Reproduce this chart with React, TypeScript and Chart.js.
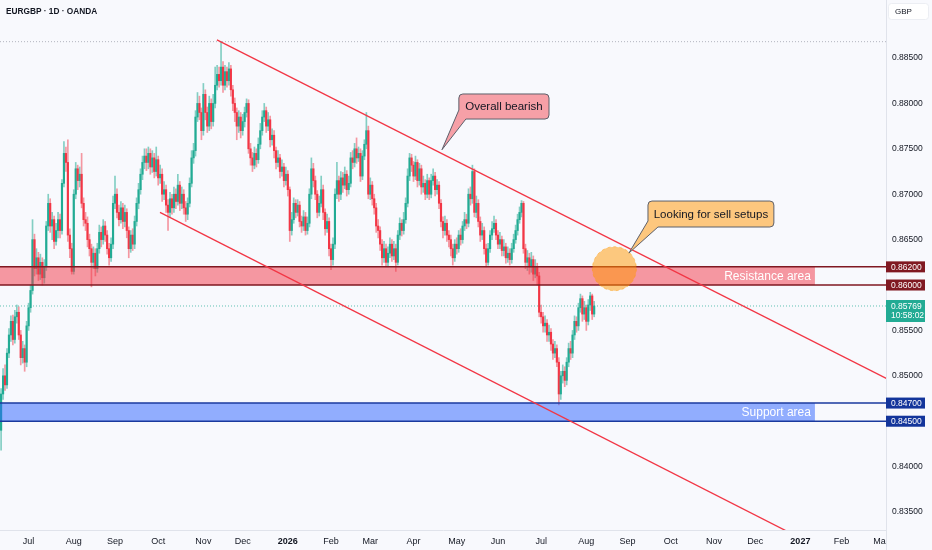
import React, { useEffect, useRef } from "react";
import { Chart, registerables } from "chart.js";

Chart.register(...registerables);

// ---------- data ----------
// Daily bars, indexed by trading day: 0 = 1 Jul 2025. First bar is index FIRST_BAR.
const FIRST_BAR = -14;
// Prices in units of 0.0001 (pips)
const OPEN = [
  8440, 8480, 8500, 8490, 8525, 8545, 8560, 8540, 8565, 8570,
  8545, 8520, 8530, 8515, 8555, 8575, 8594, 8650, 8618, 8630,
  8612, 8625, 8608, 8620, 8665, 8690, 8665, 8672, 8648, 8660,
  8672, 8660, 8712, 8745, 8735, 8655, 8640, 8615, 8700, 8728,
  8715, 8722, 8690, 8672, 8668, 8650, 8640, 8625, 8635, 8618,
  8640, 8658, 8650, 8665, 8655, 8640, 8630, 8645, 8690, 8700,
  8680, 8672, 8685, 8670, 8680, 8660, 8640, 8655, 8645, 8670,
  8690, 8705, 8722, 8735, 8742, 8735, 8745, 8730, 8740, 8725,
  8738, 8718, 8722, 8700, 8705, 8688, 8680, 8695, 8685, 8700,
  8692, 8710, 8690, 8700, 8685, 8678, 8690, 8712, 8740, 8748,
  8785, 8800, 8790, 8770, 8810, 8790, 8775, 8800, 8780, 8800,
  8820, 8832, 8825, 8840, 8820, 8835, 8825, 8838, 8815, 8800,
  8790, 8775, 8785, 8770, 8780, 8790, 8800, 8750, 8740, 8732,
  8745, 8738, 8755, 8770, 8785, 8792, 8775, 8782, 8760, 8765,
  8748, 8735, 8740, 8725, 8730, 8715, 8722, 8705, 8660, 8672,
  8690, 8680, 8688, 8670, 8665, 8675, 8660, 8668, 8700, 8728,
  8715, 8700, 8680, 8690, 8705, 8680, 8662, 8670, 8640, 8628,
  8645, 8700, 8715, 8700, 8718, 8710, 8722, 8705, 8712, 8740,
  8735, 8750, 8740, 8745, 8720, 8742, 8755, 8770, 8700, 8710,
  8695, 8685, 8665, 8660, 8645, 8630, 8640, 8625, 8635, 8645,
  8632, 8640, 8625, 8655, 8668, 8660, 8672, 8690, 8720, 8740,
  8732, 8720, 8735, 8715, 8728, 8708, 8712, 8700, 8715, 8700,
  8715, 8720, 8705, 8710, 8690, 8670, 8660, 8668, 8655, 8650,
  8640, 8630, 8645, 8640, 8655, 8650, 8665, 8672, 8668, 8700,
  8695, 8725, 8680, 8690, 8670, 8655, 8660, 8640, 8625, 8640,
  8655, 8662, 8668, 8655, 8645, 8650, 8638, 8642, 8630, 8635,
  8628, 8640, 8650, 8660, 8672, 8680, 8690, 8640, 8625, 8630,
  8620, 8628, 8612, 8620, 8610, 8570, 8565, 8555, 8558, 8545,
  8548, 8535, 8525, 8530, 8515, 8480, 8500, 8505, 8495, 8515,
  8530, 8525, 8545, 8560, 8555, 8575, 8585, 8568, 8575, 8560,
  8578, 8588, 8568,
];
const HIGH = [
  8486, 8508, 8512, 8530, 8552, 8566, 8567, 8572, 8578, 8576,
  8550, 8538, 8534, 8560, 8580, 8600, 8672, 8656, 8640, 8636,
  8634, 8630, 8628, 8670, 8700, 8695, 8680, 8676, 8668, 8680,
  8678, 8716, 8758, 8752, 8760, 8662, 8646, 8705, 8735, 8732,
  8730, 8745, 8696, 8680, 8675, 8656, 8645, 8642, 8640, 8646,
  8666, 8664, 8672, 8670, 8660, 8646, 8652, 8698, 8720, 8706,
  8688, 8692, 8690, 8688, 8684, 8664, 8660, 8662, 8676, 8696,
  8712, 8728, 8742, 8750, 8750, 8752, 8750, 8748, 8745, 8752,
  8742, 8732, 8728, 8714, 8710, 8694, 8702, 8700, 8708, 8706,
  8722, 8714, 8708, 8705, 8692, 8696, 8718, 8748, 8756, 8792,
  8812, 8808, 8795, 8822, 8815, 8796, 8808, 8805, 8810, 8840,
  8842, 8840, 8868, 8846, 8842, 8840, 8845, 8842, 8820, 8806,
  8795, 8792, 8790, 8788, 8796, 8805, 8804, 8756, 8746, 8752,
  8750, 8762, 8778, 8792, 8800, 8796, 8790, 8786, 8772, 8770,
  8752, 8748, 8744, 8738, 8734, 8730, 8726, 8708, 8680, 8696,
  8694, 8694, 8692, 8676, 8682, 8680, 8675, 8706, 8740, 8734,
  8720, 8704, 8698, 8720, 8710, 8684, 8678, 8674, 8645, 8652,
  8706, 8735, 8720, 8725, 8724, 8730, 8726, 8720, 8746, 8748,
  8756, 8762, 8752, 8750, 8748, 8760, 8790, 8775, 8718, 8714,
  8700, 8690, 8672, 8664, 8650, 8648, 8645, 8642, 8652, 8650,
  8648, 8645, 8660, 8674, 8672, 8680, 8696, 8728, 8745, 8744,
  8736, 8742, 8738, 8734, 8732, 8720, 8716, 8722, 8718, 8722,
  8728, 8724, 8716, 8714, 8694, 8675, 8676, 8672, 8660, 8655,
  8645, 8650, 8652, 8660, 8662, 8670, 8680, 8678, 8706, 8708,
  8732, 8728, 8698, 8694, 8675, 8668, 8664, 8645, 8646, 8660,
  8670, 8676, 8672, 8660, 8658, 8654, 8650, 8646, 8642, 8640,
  8646, 8656, 8666, 8678, 8686, 8693, 8692, 8645, 8638, 8635,
  8636, 8632, 8628, 8624, 8614, 8578, 8570, 8566, 8562, 8556,
  8552, 8540, 8538, 8534, 8520, 8505, 8512, 8510, 8520, 8536,
  8538, 8550, 8566, 8565, 8580, 8590, 8588, 8582, 8578, 8584,
  8592, 8590, 8582,
];
const LOW = [
  8418, 8474, 8484, 8486, 8520, 8538, 8534, 8536, 8558, 8540,
  8512, 8514, 8505, 8510, 8550, 8570, 8590, 8610, 8612, 8605,
  8606, 8600, 8602, 8616, 8660, 8658, 8650, 8640, 8644, 8652,
  8652, 8656, 8708, 8725, 8648, 8630, 8612, 8612, 8695, 8705,
  8708, 8685, 8665, 8660, 8642, 8632, 8598, 8618, 8610, 8614,
  8635, 8642, 8645, 8648, 8634, 8622, 8626, 8640, 8684, 8674,
  8665, 8668, 8662, 8664, 8652, 8630, 8636, 8638, 8640, 8665,
  8684, 8700, 8716, 8728, 8726, 8728, 8722, 8724, 8718, 8720,
  8710, 8712, 8692, 8694, 8680, 8660, 8675, 8678, 8680, 8684,
  8688, 8682, 8684, 8678, 8670, 8672, 8686, 8708, 8734, 8742,
  8780, 8782, 8760, 8765, 8782, 8768, 8770, 8772, 8775, 8795,
  8815, 8818, 8820, 8812, 8815, 8818, 8820, 8808, 8792, 8780,
  8760, 8768, 8762, 8765, 8774, 8785, 8745, 8732, 8725, 8728,
  8730, 8734, 8750, 8765, 8780, 8768, 8770, 8752, 8754, 8740,
  8728, 8730, 8718, 8720, 8708, 8710, 8698, 8648, 8655, 8668,
  8674, 8676, 8664, 8658, 8660, 8655, 8656, 8664, 8695, 8708,
  8694, 8674, 8676, 8686, 8672, 8655, 8658, 8632, 8617, 8622,
  8640, 8695, 8692, 8694, 8702, 8706, 8698, 8700, 8708, 8728,
  8730, 8734, 8736, 8714, 8716, 8738, 8750, 8695, 8694, 8688,
  8678, 8658, 8652, 8638, 8622, 8625, 8620, 8620, 8630, 8626,
  8628, 8615, 8622, 8650, 8654, 8656, 8668, 8686, 8715, 8725,
  8714, 8716, 8708, 8710, 8700, 8702, 8694, 8696, 8694, 8696,
  8710, 8698, 8700, 8684, 8664, 8652, 8655, 8648, 8642, 8632,
  8622, 8626, 8634, 8636, 8644, 8646, 8660, 8662, 8664, 8688,
  8690, 8675, 8674, 8664, 8648, 8650, 8634, 8620, 8622, 8636,
  8650, 8658, 8650, 8640, 8640, 8632, 8632, 8624, 8625, 8622,
  8624, 8636, 8646, 8655, 8668, 8675, 8635, 8618, 8616, 8612,
  8614, 8605, 8608, 8600, 8565, 8558, 8548, 8548, 8538, 8538,
  8528, 8518, 8520, 8510, 8468, 8474, 8492, 8488, 8490, 8510,
  8518, 8520, 8540, 8548, 8550, 8570, 8560, 8562, 8550, 8556,
  8572, 8562, 8565,
];
const CLOSE = [
  8480, 8500, 8490, 8525, 8545, 8560, 8540, 8565, 8570, 8545,
  8520, 8530, 8515, 8555, 8575, 8594, 8650, 8618, 8630, 8612,
  8625, 8608, 8620, 8665, 8690, 8665, 8672, 8648, 8660, 8672,
  8660, 8712, 8745, 8735, 8655, 8640, 8615, 8700, 8728, 8715,
  8722, 8690, 8672, 8668, 8650, 8640, 8625, 8635, 8618, 8640,
  8658, 8650, 8665, 8655, 8640, 8630, 8645, 8690, 8700, 8680,
  8672, 8685, 8670, 8680, 8660, 8640, 8655, 8645, 8670, 8690,
  8705, 8722, 8735, 8742, 8735, 8745, 8730, 8740, 8725, 8738,
  8718, 8722, 8700, 8705, 8688, 8680, 8695, 8685, 8700, 8692,
  8710, 8690, 8700, 8685, 8678, 8690, 8712, 8740, 8748, 8785,
  8800, 8790, 8770, 8810, 8790, 8775, 8800, 8780, 8800, 8820,
  8832, 8825, 8840, 8820, 8835, 8825, 8838, 8815, 8800, 8790,
  8775, 8785, 8770, 8780, 8790, 8800, 8750, 8740, 8732, 8745,
  8738, 8755, 8770, 8785, 8792, 8775, 8782, 8760, 8765, 8748,
  8735, 8740, 8725, 8730, 8715, 8722, 8705, 8660, 8672, 8690,
  8680, 8688, 8670, 8665, 8675, 8660, 8668, 8700, 8728, 8715,
  8700, 8680, 8690, 8705, 8680, 8662, 8670, 8640, 8628, 8645,
  8700, 8715, 8700, 8718, 8710, 8722, 8705, 8712, 8740, 8735,
  8750, 8740, 8745, 8720, 8742, 8755, 8770, 8700, 8710, 8695,
  8685, 8665, 8660, 8645, 8630, 8640, 8625, 8635, 8645, 8632,
  8640, 8625, 8655, 8668, 8660, 8672, 8690, 8720, 8740, 8732,
  8720, 8735, 8715, 8728, 8708, 8712, 8700, 8715, 8700, 8715,
  8720, 8705, 8710, 8690, 8670, 8660, 8668, 8655, 8650, 8640,
  8630, 8645, 8640, 8655, 8650, 8665, 8672, 8668, 8700, 8695,
  8725, 8680, 8690, 8670, 8655, 8660, 8640, 8625, 8640, 8655,
  8662, 8668, 8655, 8645, 8650, 8638, 8642, 8630, 8635, 8628,
  8640, 8650, 8660, 8672, 8680, 8690, 8640, 8625, 8630, 8620,
  8628, 8612, 8620, 8610, 8570, 8565, 8555, 8558, 8545, 8548,
  8535, 8525, 8530, 8515, 8480, 8500, 8505, 8495, 8515, 8530,
  8525, 8545, 8560, 8555, 8575, 8585, 8568, 8575, 8560, 8578,
  8588, 8568, 8576.9,
];

const MONTH_LABELS = ["Jul", "Aug", "Sep", "Oct", "Nov", "Dec", "2026", "Feb", "Mar", "Apr", "May", "Jun",
  "Jul", "Aug", "Sep", "Oct", "Nov", "Dec", "2027", "Feb", "Mar"];
const MONTH_BARS = [0, 23, 44, 66, 89, 109, 132, 154, 174, 196, 218, 239, 261, 284, 305, 327, 349, 370, 393, 414, 434];
const PRICE_TICKS = [0.835, 0.84, 0.845, 0.85, 0.855, 0.86, 0.865, 0.87, 0.875, 0.88, 0.885];

const RESISTANCE = [0.86, 0.862];
const SUPPORT = [0.845, 0.847];
const LAST_PRICE = 0.85769;
const COUNTDOWN = "10:58:02";
// trend lines: [bar, price] start and a second point
const UPPER_LINE = [[95.9, 0.8870], [436.0, 0.8498]];
const LOWER_LINE = [[66.9, 0.8680], [385.1, 0.8330]];

// ---------- styles ----------
const FONT = '"Liberation Sans", Arial, sans-serif';
const BG = "#f8f9fd";
const UP = "#22ab94";
const DOWN = "#f23645";
const UP_WICK = "rgba(34,171,148,0.55)";
const DOWN_WICK = "rgba(242,54,69,0.5)";
const TEXT = "#131722";
const AXIS_LINE = "#e0e3eb";

const X_MIN = -14.56;
const X_MAX = 436.6;
const Y_MIN = 0.83302;
const Y_MAX = 0.89139;

function roundRectPath(ctx: CanvasRenderingContext2D, l: number, t: number, w: number, h: number, rad: number) {
  ctx.beginPath();
  ctx.moveTo(l + rad, t);
  ctx.lineTo(l + w - rad, t);
  ctx.arcTo(l + w, t, l + w, t + rad, rad);
  ctx.lineTo(l + w, t + h - rad);
  ctx.arcTo(l + w, t + h, l + w - rad, t + h, rad);
  ctx.lineTo(l + rad, t + h);
  ctx.arcTo(l, t + h, l, t + h - rad, rad);
  ctx.lineTo(l, t + rad);
  ctx.arcTo(l, t, l + rad, t, rad);
  ctx.closePath();
}

function callout(
  ctx: CanvasRenderingContext2D, l: number, t: number, r: number, b: number,
  tipX: number, tipY: number, baseDx: number, baseDy: number, fill: string, text: string
) {
  const rad = 4;
  ctx.beginPath();
  ctx.moveTo(l + rad, t);
  ctx.lineTo(r - rad, t);
  ctx.arcTo(r, t, r, t + rad, rad);
  ctx.lineTo(r, b - rad);
  ctx.arcTo(r, b, r - rad, b, rad);
  ctx.lineTo(l + baseDx, b);
  ctx.lineTo(tipX, tipY);
  ctx.lineTo(l, b - baseDy);
  ctx.lineTo(l, t + rad);
  ctx.arcTo(l, t, l + rad, t, rad);
  ctx.closePath();
  ctx.fillStyle = fill;
  ctx.fill();
  ctx.strokeStyle = "#5d606b";
  ctx.lineWidth = 1;
  ctx.stroke();
  ctx.fillStyle = TEXT;
  ctx.font = `11.5px ${FONT}`;
  ctx.textAlign = "center";
  ctx.textBaseline = "middle";
  ctx.fillText(text, (l + r) / 2, (t + b) / 2 + 0.5);
}

const overlay = {
  id: "overlay",
  beforeDraw(chart: any) {
    const { ctx, width, height } = chart;
    ctx.save();
    ctx.fillStyle = BG;
    ctx.fillRect(0, 0, width, height);
    ctx.restore();
  },
  afterDatasetsDraw(chart: any) {
    const { ctx, chartArea: a, scales } = chart;
    const x = scales.x, y = scales.y;
    ctx.save();
    ctx.beginPath();
    ctx.rect(a.left, a.top, a.right - a.left, a.bottom - a.top);
    ctx.clip();

    // high marker & last price dotted lines
    const hiY = y.getPixelForValue(Math.max(...HIGH) / 1e4);
    ctx.setLineDash([1, 2]);
    ctx.lineWidth = 1;
    ctx.strokeStyle = "#b2b5be";
    ctx.beginPath(); ctx.moveTo(a.left, hiY); ctx.lineTo(a.right, hiY); ctx.stroke();
    const lpY = y.getPixelForValue(LAST_PRICE);
    ctx.strokeStyle = "rgba(34,171,148,0.7)";
    ctx.beginPath(); ctx.moveTo(a.left, lpY); ctx.lineTo(a.right, lpY); ctx.stroke();
    ctx.setLineDash([]);

    // bands
    const bands = [
      { lv: RESISTANCE, fill: "rgba(242,54,69,0.5)", line: "#801922", text: "Resistance area" },
      { lv: SUPPORT, fill: "rgba(41,98,255,0.5)", line: "#1a3a9e", text: "Support area" },
    ];
    const bandRight = x.getPixelForValue(400.4);
    for (const bd of bands) {
      const yt = y.getPixelForValue(bd.lv[1]);
      const yb = y.getPixelForValue(bd.lv[0]);
      ctx.fillStyle = bd.fill;
      ctx.fillRect(a.left, yt, bandRight - a.left, yb - yt);
      ctx.strokeStyle = bd.line;
      ctx.lineWidth = 1.5;
      ctx.beginPath();
      ctx.moveTo(a.left, yt); ctx.lineTo(a.right, yt);
      ctx.moveTo(a.left, yb); ctx.lineTo(a.right, yb);
      ctx.stroke();
      ctx.fillStyle = "#ffffff";
      ctx.font = `12px ${FONT}`;
      ctx.textAlign = "right";
      ctx.textBaseline = "middle";
      ctx.fillText(bd.text, bandRight - 4, (yt + yb) / 2 + 0.5);
    }

    // trend lines (extended right)
    ctx.strokeStyle = DOWN;
    ctx.lineWidth = 1.3;
    for (const ln of [UPPER_LINE, LOWER_LINE]) {
      const x1 = x.getPixelForValue(ln[0][0]), y1 = y.getPixelForValue(ln[0][1]);
      const x2 = x.getPixelForValue(ln[1][0]), y2 = y.getPixelForValue(ln[1][1]);
      const k = (y2 - y1) / (x2 - x1);
      const xe = a.right + 20;
      ctx.beginPath();
      ctx.moveTo(x1, y1);
      ctx.lineTo(xe, y1 + k * (xe - x1));
      ctx.stroke();
    }

    // circle
    const cx = x.getPixelForValue(298.3), cy = y.getPixelForValue(0.8618);
    ctx.beginPath();
    ctx.arc(cx, cy, 22, 0, Math.PI * 2);
    ctx.fillStyle = "rgba(255,152,0,0.5)";
    ctx.fill();
    ctx.setLineDash([3, 3]);
    ctx.strokeStyle = "rgba(255,152,0,0.45)";
    ctx.lineWidth = 1;
    ctx.stroke();
    ctx.setLineDash([]);

    // callouts
    callout(ctx,
      x.getPixelForValue(219.1), y.getPixelForValue(0.88104),
      x.getPixelForValue(265.0), y.getPixelForValue(0.87828),
      x.getPixelForValue(210.5), y.getPixelForValue(0.8749),
      7, 9, "#f6a0a7", "Overall bearish");
    callout(ctx,
      x.getPixelForValue(315.4), y.getPixelForValue(0.86925),
      x.getPixelForValue(379.5), y.getPixelForValue(0.86639),
      x.getPixelForValue(305.7), y.getPixelForValue(0.86352),
      10, 6, "#fdc77e", "Looking for sell setups");

    ctx.restore();
  },
  afterDraw(chart: any) {
    const { ctx, chartArea: a, scales, width, height } = chart;
    const y = scales.y;
    ctx.save();
    // hide overflow of last month label under price scale
    ctx.fillStyle = BG;
    ctx.fillRect(a.right + 1, a.bottom + 1, width - a.right, height - a.bottom);
    // price scale separator
    ctx.strokeStyle = AXIS_LINE;
    ctx.lineWidth = 1;
    ctx.beginPath();
    ctx.moveTo(a.right + 0.5, 0); ctx.lineTo(a.right + 0.5, height);
    ctx.stroke();

    const boxL = a.right;
    const boxW = 39;
    ctx.font = `8.5px ${FONT}`;
    ctx.textAlign = "left";
    ctx.textBaseline = "middle";
    const tag = (v: number, color: string) => {
      const py = y.getPixelForValue(v);
      ctx.fillStyle = color;
      ctx.fillRect(boxL, py - 5.5, boxW, 11);
      ctx.fillStyle = "#ffffff";
      ctx.fillText(v.toFixed(5), boxL + 5, py + 0.5);
    };
    tag(RESISTANCE[1], "#801922");
    tag(RESISTANCE[0], "#801922");
    tag(SUPPORT[1], "#13359b");
    tag(SUPPORT[0], "#13359b");
    // last price tag
    const lp = y.getPixelForValue(LAST_PRICE);
    ctx.fillStyle = UP;
    ctx.fillRect(boxL, lp - 6, boxW, 22);
    ctx.fillStyle = "#ffffff";
    ctx.fillText(LAST_PRICE.toFixed(5), boxL + 5, lp + 0.5);
    ctx.fillText(COUNTDOWN, boxL + 5, lp + 10);

    // currency box
    roundRectPath(ctx, a.right + 2.5, 3.5, 40, 16, 3);
    ctx.fillStyle = "#ffffff";
    ctx.fill();
    ctx.strokeStyle = "#eceef3";
    ctx.lineWidth = 1;
    ctx.stroke();

    // header texts
    ctx.fillStyle = TEXT;
    ctx.font = `bold 8.3px ${FONT}`;
    ctx.fillText("EURGBP · 1D · OANDA", 6, 11.5);
    ctx.font = `8px ${FONT}`;
    ctx.fillText("GBP", 895, 11.5);
    ctx.restore();
  },
};

export default function App() {
  const ref = useRef<HTMLCanvasElement>(null);
  useEffect(() => {
    document.body.style.margin = "0";
    document.body.style.background = BG;
    const bars = CLOSE.map((c, k) => ({
      i: FIRST_BAR + k,
      o: OPEN[k] / 1e4,
      h: HIGH[k] / 1e4,
      l: LOW[k] / 1e4,
      c: c / 1e4,
    }));
    const isUp = bars.map((b) => b.c >= b.o);
    const chart = new Chart(ref.current as HTMLCanvasElement, {
      type: "bar",
      data: {
        datasets: [
          {
            label: "wicks",
            data: bars.map((b) => ({ x: b.i, y: [b.l, b.h] })) as any,
            backgroundColor: isUp.map((u) => (u ? UP_WICK : DOWN_WICK)),
            barThickness: 1,
            grouped: false,
            order: 2,
          },
          {
            label: "bodies",
            data: bars.map((b) => ({ x: b.i, y: [b.o, b.c] })) as any,
            backgroundColor: isUp.map((u) => (u ? UP : DOWN)),
            barThickness: 1.5,
            minBarLength: 1,
            grouped: false,
            order: 1,
          },
        ],
      },
      options: {
        responsive: false,
        animation: false,
        layout: { padding: 0 },
        plugins: { legend: { display: false }, tooltip: { enabled: false } },
        scales: {
          x: {
            type: "linear",
            min: X_MIN,
            max: X_MAX,
            offset: false,
            grid: { display: false, drawTicks: false },
            border: { display: true, color: AXIS_LINE },
            afterBuildTicks: (s: any) => {
              s.ticks = MONTH_BARS.map((v) => ({ value: v }));
            },
            afterFit: (s: any) => {
              s.height = 20;
              s.paddingLeft = 0; s.paddingRight = 0; s.paddingTop = 0; s.paddingBottom = 0;
            },
            ticks: {
              autoSkip: false,
              maxRotation: 0,
              minRotation: 0,
              padding: 6,
              color: TEXT,
              font: (c: any) => ({
                family: FONT,
                size: 9,
                weight: /^\d{4}$/.test(MONTH_LABELS[c.index] || "") ? "bold" : "normal",
              }),
              callback: (_v: any, idx: number) => MONTH_LABELS[idx],
            },
          },
          y: {
            position: "right",
            min: Y_MIN,
            max: Y_MAX,
            grid: { display: false, drawTicks: false },
            border: { display: true, color: AXIS_LINE },
            afterBuildTicks: (s: any) => {
              s.ticks = PRICE_TICKS.map((v) => ({ value: v }));
            },
            afterFit: (s: any) => {
              s.width = 46;
              s.paddingLeft = 0; s.paddingRight = 0; s.paddingTop = 0; s.paddingBottom = 0;
            },
            ticks: {
              padding: 6,
              color: TEXT,
              font: { family: FONT, size: 8.5 },
              callback: (v: any) => Number(v).toFixed(5),
            },
          },
        },
      } as any,
      plugins: [overlay],
    });
    return () => chart.destroy();
  }, []);
  return (
    <div style={{ width: 932, height: 550 }}>
      <canvas ref={ref} width={932} height={550} style={{ display: "block", width: 932, height: 550 }} />
    </div>
  );
}
